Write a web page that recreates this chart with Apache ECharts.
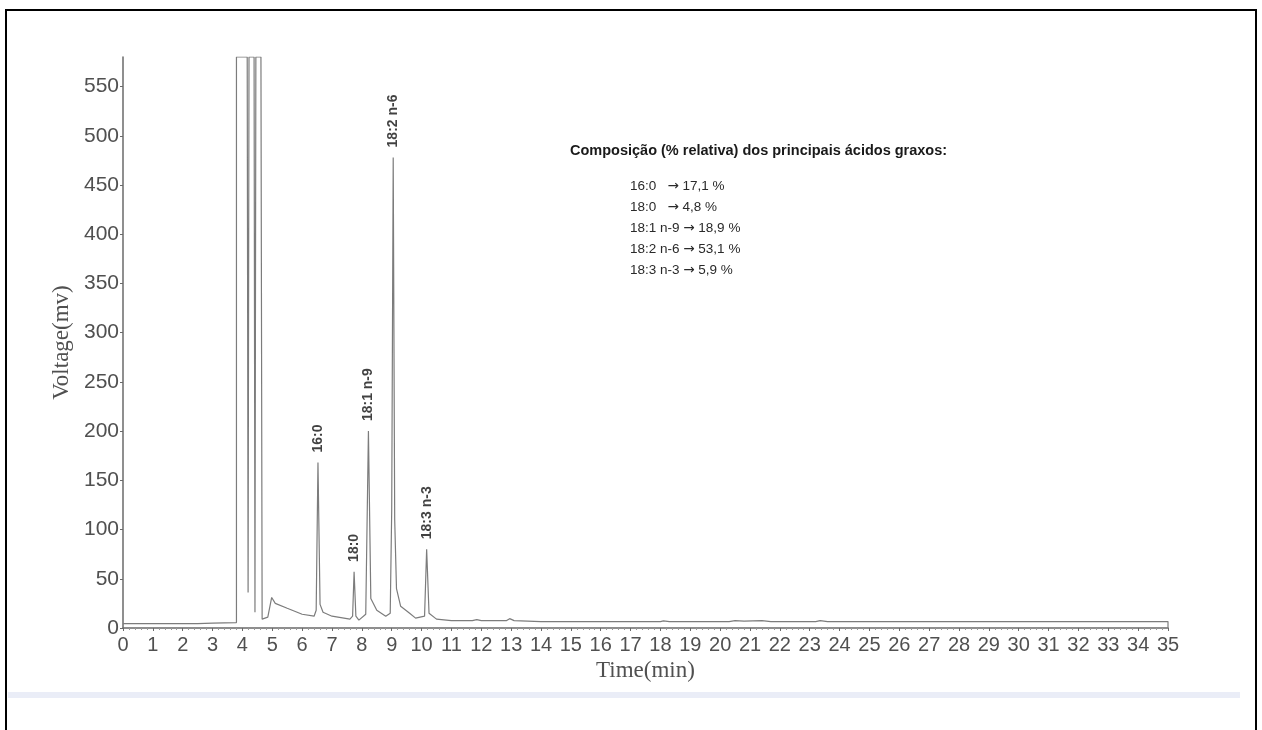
<!DOCTYPE html>
<html>
<head>
<meta charset="utf-8">
<script src="https://cdn.jsdelivr.net/npm/echarts@6/dist/echarts.min.js"></script>
<style>
html, body { margin: 0; padding: 0; background: #ffffff; }
#chart { width: 1262px; height: 730px; }
</style>
</head>
<body>
<div id="chart"></div>
<script>
// Axis ticks
const yTickValues = [0, 50, 100, 150, 200, 250, 300, 350, 400, 450, 500, 550];
const xTickValues = [0, 1, 2, 3, 4, 5, 6, 7, 8, 9, 10, 11, 12, 13, 14, 15, 16, 17,
  18, 19, 20, 21, 22, 23, 24, 25, 26, 27, 28, 29, 30, 31, 32, 33, 34, 35];

// Identified fatty-acid peaks: retention time (min) and apex height (mV)
const peakNames = ['16:0', '18:0', '18:1 n-9', '18:2 n-6', '18:3 n-3'];
const peakTimes = [6.53, 7.74, 8.22, 9.05, 10.17];
const peakHeights = [168, 57, 200, 478, 80];

// Relative composition of the main fatty acids
const compositionNames = ['16:0', '18:0', '18:1 n-9', '18:2 n-6', '18:3 n-3'];
const compositionPercents = ['17,1', '4,8', '18,9', '53,1', '5,9'];

// Detector saturation level (solvent front)
const saturation = 580;

// Chromatogram trace [time (min), voltage (mV)]
const baselineStart = [[0, 4.5], [2.5, 4.5], [3.0, 5], [3.80, 5.5]];
const solventFront = [
  [3.80, saturation], [4.16, saturation], [4.19, 36], [4.22, saturation],
  [4.39, saturation], [4.42, 16], [4.45, saturation], [4.62, saturation],
  [4.66, 9], [4.85, 11], [4.98, 31], [5.1, 25], [5.5, 20], [6.0, 14], [6.4, 12]
];
const peak160 = [[6.47, 18], [peakTimes[0], peakHeights[0]], [6.60, 24], [6.7, 16], [7.0, 12], [7.6, 9]];
const peak180 = [[7.69, 12], [peakTimes[1], peakHeights[1]], [7.80, 12], [7.9, 8], [8.13, 14]];
const peak181 = [[peakTimes[2], peakHeights[2]], [8.30, 30], [8.5, 18], [8.8, 12], [8.95, 15]];
const peak182 = [[9.00, 120], [peakTimes[3], peakHeights[3]], [9.10, 110], [9.16, 40], [9.3, 22],
  [9.6, 15], [9.8, 10], [10.1, 12]];
const peak183 = [[peakTimes[4], peakHeights[4]], [10.25, 15], [10.5, 9], [11, 7.5], [11.7, 7.5],
  [11.85, 8.5], [12.0, 7.5], [12.85, 7.5], [12.95, 9.5], [13.1, 7.5], [14, 6.5]];
const baselineEnd = [[18.0, 6.5], [18.1, 7.3], [18.3, 6.5], [20.3, 6.5], [20.5, 7.5], [20.8, 7],
  [21.4, 7.5], [21.7, 6.5], [23.2, 6.5], [23.35, 7.5], [23.6, 6.5], [35, 6.5], [35, 0]];

const trace = [].concat(baselineStart, solventFront, peak160, peak180, peak181,
  peak182, peak183, baselineEnd);

const axisGrey = '#6a6a6a';
const labelGrey = '#505050';
const sans = '"Liberation Sans", Arial, sans-serif';
const serif = '"Liberation Serif", "Times New Roman", serif';

const chart = echarts.init(document.getElementById('chart'), null, { renderer: 'canvas' });

// Composition annotation block
const annotation = [{
  type: 'text', left: 570, top: 143,
  style: {
    text: 'Composição (% relativa) dos principais ácidos graxos:',
    font: 'bold 14.5px ' + sans, fill: '#1a1a1a'
  }
}];
compositionNames.forEach(function (name, i) {
  const gap = name.length <= 4 ? '   ' : ' ';
  annotation.push({
    type: 'text', left: 630, top: 179 + i * 21,
    style: {
      text: name + gap + '{a|\u2192} ' + compositionPercents[i] + ' %',
      fontFamily: sans, fontSize: 13.5, fill: '#2a2a2a',
      rich: { a: { fontFamily: '"DejaVu Sans"', fontSize: 13.5, fill: '#2a2a2a' } }
    }
  });
});

const frame = [
  { type: 'polyline', shape: { points: [[6, 730], [6, 10], [1256, 10], [1256, 730]] },
    style: { stroke: '#000', lineWidth: 2, fill: null } },
  { type: 'rect', shape: { x: 8, y: 692, width: 1232, height: 6 },
    style: { fill: '#eaedf7' } }
];

chart.setOption({
  animation: false,
  backgroundColor: '#ffffff',
  grid: { left: 123, right: 94, top: 57, bottom: 102, containLabel: false },
  xAxis: {
    type: 'value', min: 0, max: 35, interval: 1,
    name: 'Time(min)', nameLocation: 'middle', nameGap: 28,
    nameTextStyle: { fontFamily: serif, fontSize: 23, color: labelGrey },
    axisLine: { show: true, lineStyle: { color: axisGrey, width: 1.5 } },
    axisTick: { show: true, length: 3, inside: false, lineStyle: { color: axisGrey } },
    minorTick: { show: true, splitNumber: 5, length: 2, lineStyle: { color: '#999' } },
    axisLabel: {
      customValues: xTickValues, margin: 7,
      fontFamily: sans, fontSize: 20, color: labelGrey
    },
    splitLine: { show: false }
  },
  yAxis: {
    type: 'value', min: 0, max: saturation, interval: 50,
    name: 'Voltage(mv)', nameLocation: 'middle', nameGap: 49,
    nameTextStyle: { fontFamily: serif, fontSize: 23, color: labelGrey },
    axisLine: { show: true, lineStyle: { color: axisGrey, width: 1.5 } },
    axisTick: { show: true, length: 3, customValues: yTickValues, lineStyle: { color: axisGrey } },
    axisLabel: {
      customValues: yTickValues, margin: 4,
      fontFamily: sans, fontSize: 21, color: labelGrey
    },
    splitLine: { show: false }
  },
  series: [
    {
      type: 'line', data: trace, showSymbol: false, symbol: 'none',
      lineStyle: { color: '#7c7c7c', width: 1.2 }, clip: true, z: 3
    },
    {
      type: 'scatter', symbolSize: 0, silent: true, z: 4,
      data: peakTimes.map(function (t, i) { return [t, peakHeights[i]]; }),
      label: {
        show: true, position: 'top', distance: 10, rotate: 90,
        align: 'left', verticalAlign: 'middle',
        fontFamily: sans, fontSize: 14, fontWeight: 'bold', color: '#111',
        formatter: function (p) { return peakNames[p.dataIndex]; }
      }
    }
  ],
  graphic: frame.concat(annotation)
});
</script>
</body>
</html>
